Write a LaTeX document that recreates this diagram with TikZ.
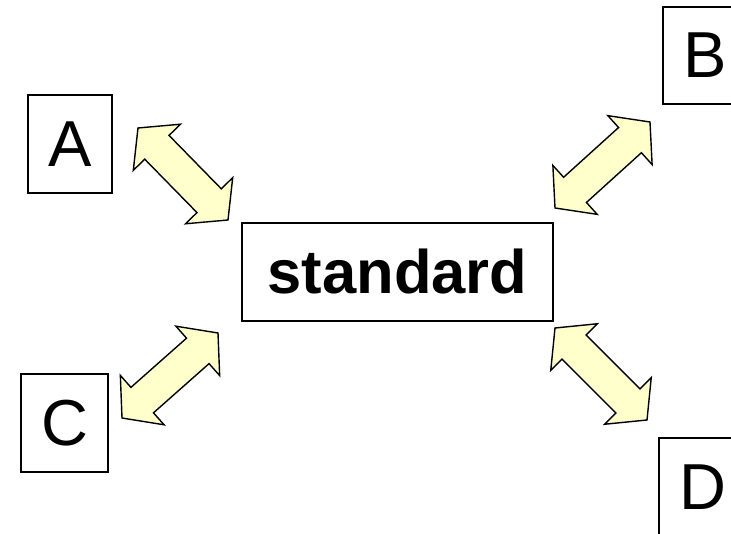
\documentclass[tikz,border=0pt]{standalone}
\usepackage{fontspec}
\setmainfont{Liberation Sans}
\usetikzlibrary{calc}
\definecolor{arrowfill}{HTML}{FFFFCC}
\tikzset{
  box/.style={draw=black, line width=1.4pt, fill=white, inner sep=0pt, align=center},
  letterbox/.style={box, minimum width=85pt, minimum height=98pt, font=\fontsize{65}{70}\selectfont},
  fatarrowstyle/.style={draw=black, fill=arrowfill, line width=1.4pt, line join=miter}
}
\newcommand\fatarrow[2]{%
  \path[fatarrowstyle] let \p1=(#1), \p2=(#2), \n1={atan2(\y2-\y1,\x2-\x1)} in
    (#1)
    -- ($(#1)+(\n1:27pt)+(\n1+90:33pt)$)
    -- ($(#1)+(\n1:27pt)+(\n1+90:17pt)$)
    -- ($(#2)+(\n1+180:27pt)+(\n1+90:17pt)$)
    -- ($(#2)+(\n1+180:27pt)+(\n1+90:33pt)$)
    -- (#2)
    -- ($(#2)+(\n1+180:27pt)+(\n1-90:33pt)$)
    -- ($(#2)+(\n1+180:27pt)+(\n1-90:17pt)$)
    -- ($(#1)+(\n1:27pt)+(\n1-90:17pt)$)
    -- ($(#1)+(\n1:27pt)+(\n1-90:33pt)$)
    -- cycle;}
\begin{document}
\begin{tikzpicture}[x=1pt, y=-1pt]
  \useasboundingbox (0,0) rectangle (731,534);
  \clip (0,0) rectangle (731,534);
  \node[box, minimum width=311pt, minimum height=98pt, font=\fontsize{61.5}{66}\selectfont\bfseries] (std) at (397.5,272) {standard};
  \node[letterbox, minimum width=84pt] (A) at (70,144) {A};
  \node[letterbox, minimum width=84pt, minimum height=97pt] (B) at (705,55.5) {B};
  \node[letterbox, minimum width=87pt] (C) at (64.5,423) {C};
  \node[letterbox, minimum width=88pt] (D) at (703,487) {D};
  \coordinate (a1) at (138,128);
  \coordinate (a2) at (228,220);
  \coordinate (b1) at (555,208);
  \coordinate (b2) at (650,122);
  \coordinate (c1) at (122,418);
  \coordinate (c2) at (218,333);
  \coordinate (d1) at (555,328);
  \coordinate (d2) at (647,420);
  \fatarrow{a1}{a2}
  \fatarrow{b1}{b2}
  \fatarrow{c1}{c2}
  \fatarrow{d1}{d2}
\end{tikzpicture}
\end{document}
